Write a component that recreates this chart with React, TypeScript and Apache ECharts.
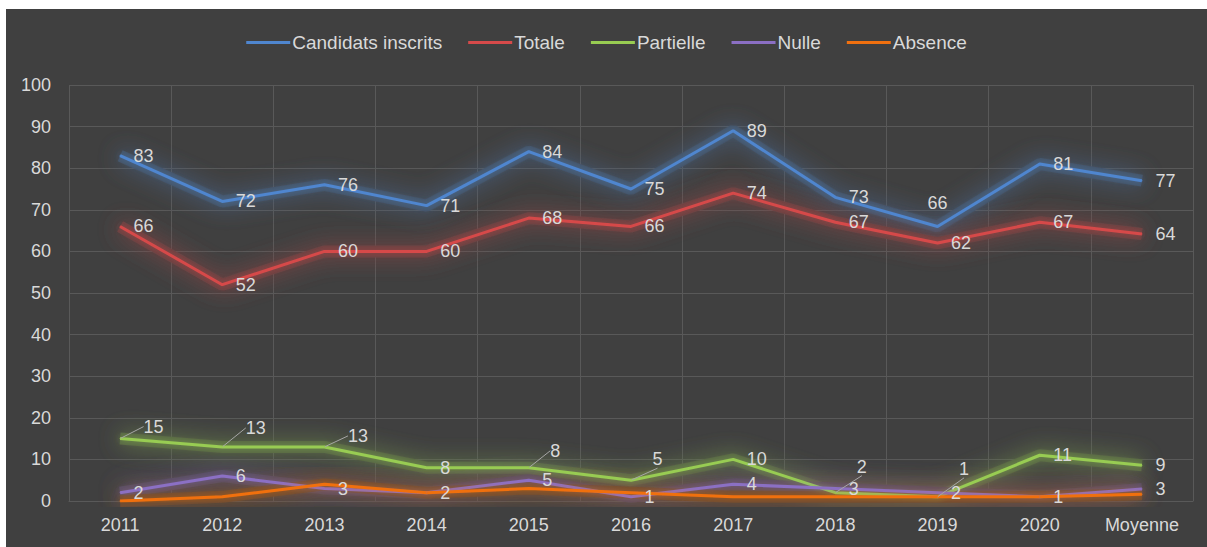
import React, { useEffect, useRef } from "react";
import * as echarts from "echarts";

const categories = ["2011", "2012", "2013", "2014", "2015", "2016", "2017", "2018", "2019", "2020", "Moyenne"];
const candidatsInscrits = [83, 72, 76, 71, 84, 75, 89, 73, 66, 81, 77];
const totale = [66, 52, 60, 60, 68, 66, 74, 67, 62, 67, 64.2];
const partielle = [15, 13, 13, 8, 8, 5, 10, 2, 1, 11, 8.6];
const nulle = [2, 6, 3, 2, 5, 1, 4, 3, 2, 1, 2.9];
const absence = [0, 1, 4, 2, 3, 2, 1, 1, 1, 1, 1.6];
const yTicks = [0, 100, 10];

const TEXT = "#d9d9d9";
const GRID = "#595959";
const BG = "#404040";
const FONT = "'Liberation Sans', Arial, sans-serif";
const FS = 18;

// label offsets (callouts with leader lines) for Partielle, by data index
const partielleCallouts: Record<number, [number, number]> = {
  0: [10, -12],
  1: [10, -19],
  2: [10, -11],
  4: [8, -17],
  5: [8, -21],
  7: [8, -26],
  8: [8, -28],
};

function rgb(hex: string) {
  const n = parseInt(hex.slice(1), 16);
  return [(n >> 16) & 255, (n >> 8) & 255, n & 255];
}
function mix(hex: string, t: number) {
  const a = rgb(hex);
  const b = rgb(BG);
  const c = a.map((v, i) => Math.round(b[i] + (v - b[i]) * t));
  return `rgb(${c[0]},${c[1]},${c[2]})`;
}
function hexToRgba(hex: string, a: number) {
  const c = rgb(hex);
  return `rgba(${c[0]},${c[1]},${c[2]},${a})`;
}

function glowSeries(name: string, values: any[], color: string) {
  return {
    name: name + " (glow)",
    type: "line",
    symbol: "none",
    silent: true,
    legendHoverLink: false,
    z: 1,
    lineStyle: {
      color: mix(color, 0.28),
      width: 12,
      shadowBlur: 22,
      shadowColor: mix(color, 0.42),
    },
    emphasis: { disabled: true },
    tooltip: { show: false },
    data: values,
  };
}

function makeSeries(name: string, values: any[], color: string, extra: any = {}) {
  return {
    name,
    type: "line",
    color,
    z: 3,
    symbol: "circle",
    symbolSize: 1,
    showSymbol: true,
    itemStyle: { color },
    lineStyle: {
      color,
      width: 3,
      shadowBlur: 6,
      shadowColor: hexToRgba(color, 0.6),
    },
    label: {
      show: true,
      position: "right",
      distance: 13,
      color: TEXT,
      fontFamily: FONT,
      fontSize: FS,
      formatter: (p: any) => String(Math.round(p.value)),
    },
    emphasis: { disabled: true },
    data: values,
    ...extra,
  };
}

export default function App() {
  const ref = useRef<HTMLDivElement>(null);

  useEffect(() => {
    if (!ref.current) return;
    const chart = echarts.init(ref.current, null, { renderer: "svg" });

    const colors = {
      candidats: "#4f86cf",
      totale: "#d64a4a",
      partielle: "#98cc52",
      nulle: "#8b6fc4",
      absence: "#f0700f",
    };

    const candidatsData = candidatsInscrits.map((v, i) =>
      i === 8 ? { value: v, label: { position: "top", distance: 14 } } : v
    );

    const partielleData = partielle.map((v, i) => ({
      value: v,
      labelLine: { show: partielleCallouts[i] !== undefined },
    }));

    const option: any = {
      animation: false,
      backgroundColor: BG,
      textStyle: { fontFamily: FONT },
      legend: {
        top: 19,
        left: "center",
        icon: "rect",
        itemWidth: 44,
        itemHeight: 3,
        itemGap: 26,
        textStyle: { color: TEXT, fontSize: 19, fontFamily: FONT, padding: [0, 0, 0, -3] },
        data: ["Candidats inscrits", "Totale", "Partielle", "Nulle", "Absence"],
      },
      grid: { left: 63, right: 14, top: 76, bottom: 46, containLabel: false },
      xAxis: {
        type: "category",
        data: categories,
        boundaryGap: true,
        axisLine: { show: true, lineStyle: { color: GRID } },
        axisTick: { show: false },
        axisLabel: { color: TEXT, fontSize: FS, fontFamily: FONT, margin: 15 },
        splitLine: { show: true, lineStyle: { color: GRID, width: 1 } },
      },
      yAxis: {
        type: "value",
        min: yTicks[0],
        max: yTicks[1],
        interval: yTicks[2],
        axisLine: { show: false },
        axisTick: { show: false },
        axisLabel: { color: TEXT, fontSize: FS, fontFamily: FONT, margin: 18 },
        splitLine: { show: true, lineStyle: { color: GRID, width: 1 } },
      },
      series: [
        glowSeries("Candidats inscrits", candidatsInscrits, colors.candidats),
        glowSeries("Totale", totale, colors.totale),
        glowSeries("Partielle", partielle, colors.partielle),
        glowSeries("Nulle", nulle, colors.nulle),
        glowSeries("Absence", absence, colors.absence),
        makeSeries("Candidats inscrits", candidatsData, colors.candidats),
        makeSeries("Totale", totale, colors.totale),
        makeSeries("Partielle", partielleData, colors.partielle, {
          labelLine: { show: false, lineStyle: { color: "#a6a6a6", width: 1 } },
          labelLayout: (params: any) => {
            const o = partielleCallouts[params.dataIndex];
            return o ? { dx: o[0], dy: o[1] } : {};
          },
        }),
        makeSeries("Nulle", nulle, colors.nulle),
        {
          ...makeSeries("Absence", absence, colors.absence),
          label: { show: false },
        },
      ],
    };

    chart.setOption(option);
    return () => chart.dispose();
  }, []);

  return (
    <div
      style={{
        position: "absolute",
        left: 0,
        top: 0,
        width: 1207,
        height: 547,
        background: "#ffffff",
      }}
    >
      <div
        ref={ref}
        style={{ position: "absolute", left: 6, top: 9, width: 1201, height: 538 }}
      />
    </div>
  );
}
